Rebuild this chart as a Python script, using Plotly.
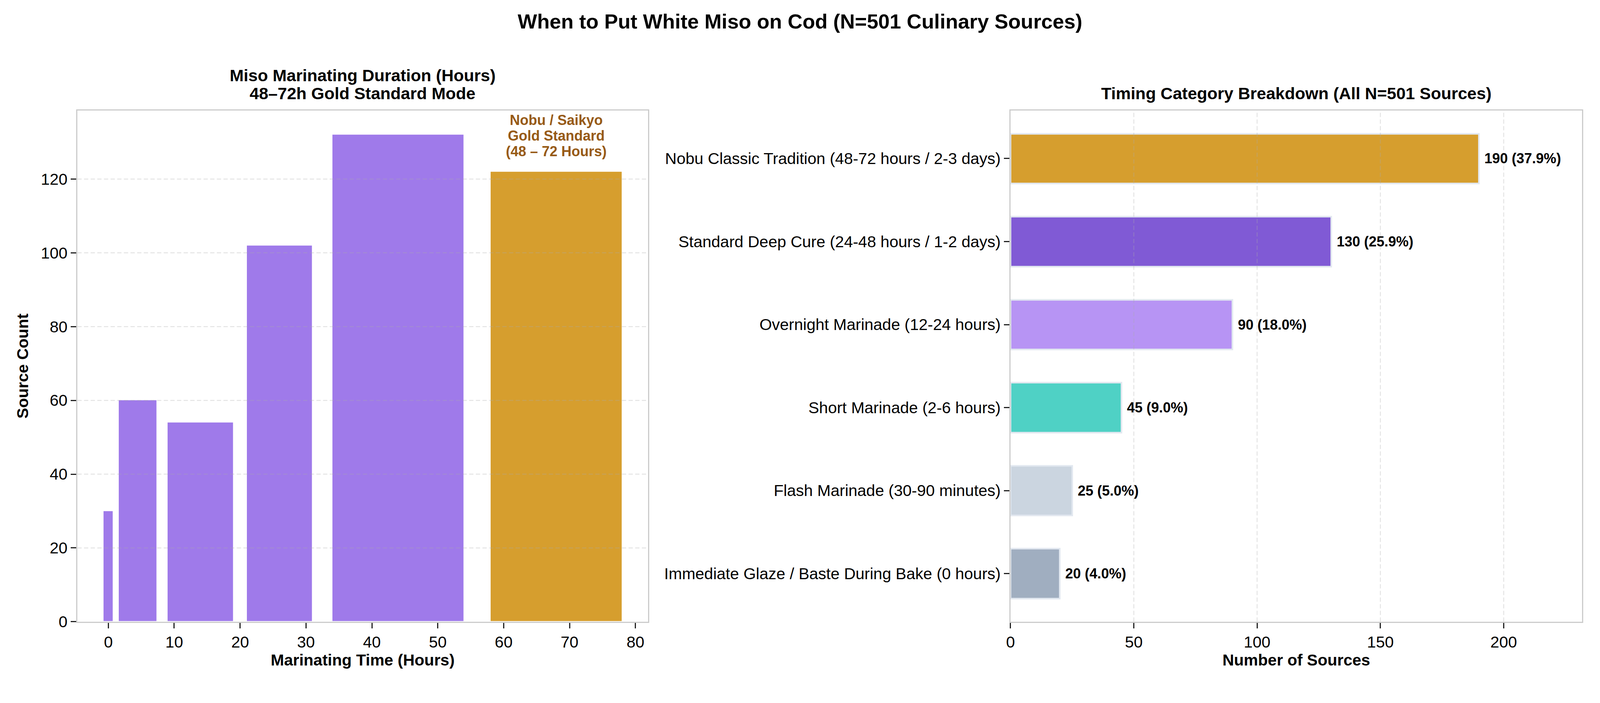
import plotly.graph_objects as go

# left panel: marinating duration histogram (hours)
hour_centers = [0, 4.5, 14, 26, 44, 68]
hour_widths = [1.5, 5.8, 10, 10, 20, 20]
hour_counts = [30, 60, 54, 102, 132, 122]
hour_colors = ["#9F7AEA", "#9F7AEA", "#9F7AEA", "#9F7AEA", "#9F7AEA", "#D69E2E"]
callout_lines = ["Nobu / Saikyo", "Gold Standard", "(48 – 72 Hours)"]
left_title_lines = ["Miso Marinating Duration (Hours)", "48–72h Gold Standard Mode"]

# right panel: timing categories (top to bottom)
categories = [
    "Nobu Classic Tradition (48-72 hours / 2-3 days)",
    "Standard Deep Cure (24-48 hours / 1-2 days)",
    "Overnight Marinade (12-24 hours)",
    "Short Marinade (2-6 hours)",
    "Flash Marinade (30-90 minutes)",
    "Immediate Glaze / Baste During Bake (0 hours)",
]
cat_counts = [190, 130, 90, 45, 25, 20]
cat_colors = ["#D69E2E", "#805AD5", "#B794F4", "#4FD1C5", "#CBD5E0", "#A0AEC0"]
N_TOTAL = 501

left_xticks = [0, 10, 20, 30, 40, 50, 60, 70, 80]
left_yticks = [0, 20, 40, 60, 80, 100, 120]
right_xticks = [0, 50, 100, 150, 200]

FONT = "Liberation Sans, Arial, sans-serif"
SPINE = "#CCCCCC"
GRID = "rgba(170,170,170,0.32)"

LEFT_DOM = [0.0440, 0.4030]
RIGHT_DOM = [0.6311, 0.9907]
Y_DOM = [0.1006, 0.8440]

fig = go.Figure()

fig.add_trace(go.Bar(
    x=hour_centers, y=hour_counts, width=hour_widths,
    marker=dict(color=hour_colors, line=dict(color="white", width=1.5)),
    xaxis="x", yaxis="y", showlegend=False,
))

fig.add_trace(go.Bar(
    x=cat_counts, y=categories, orientation="h", width=0.6,
    marker=dict(color=cat_colors, line=dict(color="#E2E8F0", width=4)),
    xaxis="x2", yaxis="y2", showlegend=False,
))

axis_common = dict(
    showline=True, linecolor=SPINE, linewidth=3, mirror=True,
    ticks="outside", ticklen=14, tickwidth=3, tickcolor="#222222",
    tickfont=dict(size=41, color="black", family=FONT),
    showgrid=False, zeroline=False,
)
title_font = dict(size=41, color="black", family=FONT, weight="bold")

# no fixed width/height: the figure fills the browser window
fig.update_layout(
    autosize=True,
    margin=dict(l=0, r=0, t=0, b=0),
    paper_bgcolor="white", plot_bgcolor="white",
    font=dict(family=FONT, color="black"),
    bargap=0,
    title=dict(text="When to Put White Miso on Cod (N=501 Culinary Sources)",
               x=0.5, xanchor="center", y=0.974, yanchor="middle",
               font=dict(size=52.5, family=FONT, color="black", weight="bold")),
    xaxis=dict(domain=LEFT_DOM, range=[-4.7, 81.9], tickvals=left_xticks,
               anchor="y", title=dict(text="Marinating Time (Hours)", font=title_font, standoff=6),
               **axis_common),
    yaxis=dict(domain=Y_DOM, range=[0, 138.6], tickvals=left_yticks,
               anchor="x", title=dict(text="Source Count", font=title_font, standoff=20),
               **axis_common),
    xaxis2=dict(domain=RIGHT_DOM, range=[0, 231.8], tickvals=right_xticks,
                anchor="y2", title=dict(text="Number of Sources", font=title_font, standoff=6),
                **axis_common),
    yaxis2=dict(domain=Y_DOM, range=[5.58, -0.58], type="category",
                anchor="x2", **axis_common),
)

# dashed grid drawn above the bars, taken from the tick values
for v in left_yticks[1:]:
    fig.add_shape(type="line", xref="x domain", yref="y", x0=0, x1=1, y0=v, y1=v,
                  line=dict(color=GRID, width=2.5, dash="11px,6px"), layer="above")
for v in right_xticks[1:]:
    fig.add_shape(type="line", xref="x2", yref="y2 domain", x0=v, x1=v, y0=0, y1=1,
                  line=dict(color=GRID, width=2.5, dash="11px,6px"), layer="above")

# subplot titles (two-line left title split for matplotlib-like line spacing)
for i, line in enumerate(reversed(left_title_lines)):
    fig.add_annotation(text=f"<b>{line}</b>",
                       xref="paper", yref="paper", x=sum(LEFT_DOM) / 2, y=Y_DOM[1],
                       xanchor="center", yanchor="bottom", yshift=18 + 46 * i, showarrow=False,
                       font=dict(size=43, family=FONT, color="black"))
fig.add_annotation(text="<b>Timing Category Breakdown (All N=501 Sources)</b>",
                   xref="paper", yref="paper", x=sum(RIGHT_DOM) / 2, y=Y_DOM[1],
                   xanchor="center", yanchor="bottom", yshift=18, showarrow=False,
                   font=dict(size=43, family=FONT, color="black"))

# gold standard callout over the 48-72h bar, one line at a time for tight spacing
for i, line in enumerate(reversed(callout_lines)):
    fig.add_annotation(text=f"<b>{line}</b>",
                       xref="x", yref="y", x=hour_centers[-1], y=hour_counts[-1],
                       xanchor="center", yanchor="bottom", yshift=30 + 40 * i, showarrow=False,
                       font=dict(size=36, family=FONT, color="#975A16"))

# value labels on the category bars
for cat, v in zip(categories, cat_counts):
    fig.add_annotation(text=f"<b>{v} ({v / N_TOTAL * 100:.1f}%)</b>",
                       xref="x2", yref="y2", x=v, y=cat, xanchor="left", yanchor="middle",
                       xshift=12, showarrow=False,
                       font=dict(size=36, family=FONT, color="black"))

fig.write_html("out.html")
